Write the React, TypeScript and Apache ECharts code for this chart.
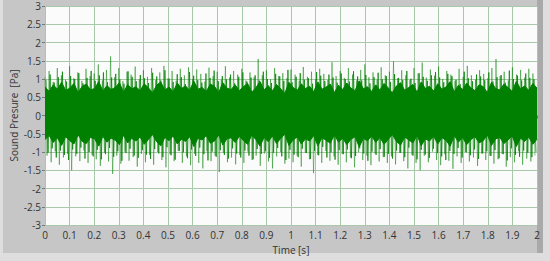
import React, { useEffect, useRef } from "react";
import * as echarts from "echarts";

// Time span of the recording (s)
const DURATION = 2;

// Positive peaks of the light-green outer spikes, one per 1/60 s
const spikePeaksUp = [
  1.05, 1.22, 0.92, 1.30, 1.10, 0.98, 1.35, 1.02, 1.18, 0.95, 1.28, 1.08,
  1.15, 1.40, 0.96, 1.25, 1.62, 1.05, 1.30, 0.94, 1.20, 1.12, 1.34, 0.99,
  1.24, 1.06, 1.30, 0.97, 1.18, 1.36, 1.02, 1.22, 0.95, 1.28, 1.10, 1.32,
  1.00, 1.26, 1.14, 0.93, 1.31, 1.08, 1.20, 0.98, 1.35, 1.04, 1.22, 1.12,
  1.28, 0.96, 1.18, 1.05, 1.55, 1.10, 1.24, 0.99, 1.30, 1.08, 1.16, 1.02,
  1.26, 1.12, 0.95, 1.33, 1.06, 1.20, 1.00, 1.28, 1.14, 0.97, 1.46, 1.08,
  1.22, 1.03, 1.30, 1.12, 0.96, 1.25, 1.40, 1.05, 1.18, 0.98, 1.32, 1.10,
  1.20, 1.48, 1.02, 1.24, 1.10, 0.97, 1.30, 1.15, 1.45, 1.04, 1.26, 1.09,
  1.34, 1.00, 1.22, 1.12, 0.95, 1.28, 1.06, 1.36, 1.10, 0.98, 1.24, 1.14,
  1.02, 1.30, 1.55, 1.08, 1.20, 0.96, 1.32, 1.12, 1.25, 1.04, 1.28, 1.15,
];

// Negative peaks of the light-green outer spikes
const spikePeaksDown = [
  -1.10, -1.28, -0.98, -1.35, -1.15, -1.05, -1.50, -1.12, -1.25, -0.96, -1.30, -1.08,
  -1.20, -1.38, -1.02, -1.26, -1.60, -1.10, -1.32, -0.99, -1.24, -1.14, -1.40, -1.05,
  -1.28, -1.08, -1.35, -1.00, -1.22, -1.42, -1.06, -1.25, -0.97, -1.30, -1.12, -1.36,
  -1.05, -1.30, -1.45, -0.98, -1.25, -1.10, -1.55, -1.02, -1.28, -1.15, -1.34, -1.08,
  -1.30, -0.99, -1.22, -1.10, -1.38, -1.04, -1.26, -1.45, -1.12, -1.00, -1.32, -1.18,
  -1.28, -1.10, -1.40, -1.02, -1.20, -1.58, -1.08, -1.30, -0.97, -1.24, -1.12, -1.35,
  -1.05, -1.28, -1.15, -1.42, -1.00, -1.22, -1.10, -1.36, -1.04, -1.26, -1.14, -1.30,
  -1.12, -1.34, -1.02, -1.25, -1.45, -1.08, -1.30, -1.50, -1.10, -1.28, -0.99, -1.22,
  -1.36, -1.06, -1.24, -1.46, -1.12, -1.30, -1.00, -1.26, -1.15, -1.38, -1.04, -1.22,
  -1.10, -1.32, -1.20, -1.05, -1.40, -1.14, -1.28, -0.98, -1.35, -1.18, -1.26, -1.10,
];

// Positive peaks of the medium-green inner spikes (offset a quarter step)
const midPeaksUp = [
  0.98, 1.12, 0.90, 1.05, 1.20, 0.93, 1.08, 1.00, 1.16, 0.88, 1.03, 1.22,
  0.95, 1.10, 1.18, 0.91, 1.04, 1.14, 0.99, 0.87, 1.21, 1.06, 0.94, 1.11,
  1.02, 0.89, 1.17, 1.07, 0.96, 1.24, 1.01, 0.92, 1.13, 1.05, 0.86, 1.19,
  1.09, 0.97, 0.90, 1.15, 1.03, 1.23, 0.94, 1.08, 0.99, 1.12, 0.88, 1.06,
  1.18, 0.93, 1.04, 1.10, 0.96, 1.20, 1.00, 0.89, 1.14, 1.07, 0.95, 1.25,
  0.91, 1.06, 1.16, 0.98, 1.02, 0.87, 1.19, 1.09, 0.94, 1.12, 1.04, 0.90,
  1.15, 1.00, 0.93, 1.21, 1.07, 0.96, 1.11, 0.88, 1.05, 1.17, 0.99, 1.08,
  0.92, 1.13, 1.03, 0.97, 1.22, 1.01, 0.89, 1.16, 1.06, 0.95, 1.10, 1.19,
  1.04, 0.91, 1.14, 1.08, 0.98, 0.86, 1.20, 1.02, 0.94, 1.12, 1.07, 0.97,
  1.18, 0.93, 1.05, 1.11, 0.90, 1.23, 1.00, 1.09, 0.96, 1.15, 1.03, 0.99,
];

// Negative peaks of the medium-green inner spikes
const midPeaksDown = [
  -1.02, -0.90, -1.15, -0.96, -1.08, -1.22, -0.93, -1.05, -0.88, -1.18, -1.00, -1.12,
  -0.94, -1.20, -1.06, -0.89, -1.13, -0.98, -1.24, -1.03, -0.91, -1.10, -1.16, -0.95,
  -1.07, -1.19, -0.92, -1.04, -1.14, -0.87, -1.09, -1.21, -0.97, -1.01, -1.17, -0.93,
  -1.11, -0.88, -1.06, -1.23, -0.99, -1.13, -0.95, -1.08, -1.18, -0.90, -1.04, -1.15,
  -0.96, -1.10, -1.20, -0.92, -1.05, -0.98, -1.16, -1.02, -0.89, -1.12, -1.22, -0.94,
  -1.07, -1.14, -0.91, -1.03, -1.19, -0.97, -1.09, -0.86, -1.15, -1.01, -1.21, -0.95,
  -1.06, -0.93, -1.17, -1.11, -0.90, -1.04, -1.24, -0.99, -1.08, -0.92, -1.13, -1.05,
  -1.18, -0.96, -1.02, -1.14, -0.88, -1.10, -1.20, -0.94, -1.07, -1.16, -0.91, -1.03,
  -1.12, -1.22, -0.97, -1.05, -0.89, -1.15, -1.01, -1.09, -0.93, -1.19, -1.04, -0.98,
  -1.11, -0.95, -1.17, -1.06, -1.23, -0.90, -1.08, -1.13, -0.96, -1.02, -1.14, -1.00,
];

// Upper edge of the dense dark-green core
const coreUpper = [
  0.78, 0.66, 0.84, 0.72, 0.91, 0.69, 0.75, 0.88, 0.63, 0.80, 0.86, 0.70,
  0.74, 0.93, 0.67, 0.82, 0.71, 0.77, 0.90, 0.64, 0.85, 0.73, 0.79, 0.68,
  0.87, 0.76, 0.62, 0.83, 0.92, 0.70, 0.78, 0.65, 0.89, 0.74, 0.81, 0.69,
  0.94, 0.72, 0.77, 0.66, 0.86, 0.80, 0.63, 0.90, 0.75, 0.71, 0.84, 0.68,
  0.79, 0.88, 0.64, 0.76, 0.93, 0.70, 0.82, 0.67, 0.85, 0.73, 0.61, 0.91,
  0.77, 0.69, 0.87, 0.74, 0.80, 0.65, 0.92, 0.72, 0.78, 0.86, 0.63, 0.83,
  0.71, 0.89, 0.75, 0.68, 0.95, 0.73, 0.79, 0.66, 0.84, 0.70, 0.88, 0.76,
  0.62, 0.81, 0.90, 0.69, 0.77, 0.85, 0.64, 0.92, 0.74, 0.80, 0.67, 0.87,
  0.72, 0.78, 0.93, 0.65, 0.83, 0.71, 0.89, 0.76, 0.68, 0.84, 0.79, 0.63,
  0.91, 0.74, 0.70, 0.86, 0.77, 0.66, 0.94, 0.73, 0.81, 0.69, 0.88, 0.75,
];

// Lower edge of the dense dark-green core
const coreLower = [
  -0.66, -0.55, -0.74, -0.61, -0.82, -0.58, -0.69, -0.78, -0.53, -0.71, -0.77, -0.60,
  -0.64, -0.84, -0.57, -0.73, -0.62, -0.68, -0.80, -0.54, -0.75, -0.63, -0.70, -0.59,
  -0.79, -0.66, -0.52, -0.72, -0.83, -0.60, -0.69, -0.56, -0.78, -0.65, -0.71, -0.58,
  -0.85, -0.62, -0.67, -0.55, -0.76, -0.70, -0.53, -0.81, -0.64, -0.61, -0.74, -0.57,
  -0.69, -0.79, -0.54, -0.66, -0.84, -0.60, -0.72, -0.56, -0.77, -0.63, -0.51, -0.82,
  -0.67, -0.59, -0.78, -0.64, -0.70, -0.55, -0.83, -0.61, -0.68, -0.76, -0.53, -0.73,
  -0.62, -0.80, -0.65, -0.58, -0.86, -0.63, -0.69, -0.56, -0.74, -0.60, -0.79, -0.66,
  -0.52, -0.71, -0.81, -0.59, -0.67, -0.75, -0.54, -0.83, -0.64, -0.70, -0.57, -0.78,
  -0.61, -0.68, -0.84, -0.55, -0.73, -0.60, -0.80, -0.66, -0.58, -0.75, -0.69, -0.53,
  -0.82, -0.64, -0.60, -0.77, -0.67, -0.56, -0.85, -0.62, -0.71, -0.59, -0.79, -0.65,
];

const Y_TITLE = "Sound Presure  [Pa]";
const X_TITLE = "Time [s]";

function buildZigzag(up: number[], down: number[], offset: number): [number, number][] {
  const n = up.length;
  const dt = DURATION / n;
  const out: [number, number][] = [];
  for (let i = 0; i < n; i++) {
    out.push([(i + offset) * dt, up[i]]);
    out.push([(i + offset + 0.5) * dt, down[i]]);
  }
  return out;
}

function buildEdge(arr: number[]): [number, number][] {
  const dt = DURATION / (arr.length - 1);
  return arr.map((v, i) => [i * dt, v]);
}

export default function App() {
  const ref = useRef<HTMLDivElement>(null);
  useEffect(() => {
    document.body.style.margin = "0";
    if (!ref.current) return;
    const chart = echarts.init(ref.current, undefined, { renderer: "svg" });
    const font = "'Open Sans', 'Noto Sans', sans-serif";
    const green = "#008000";
    const label = {
      color: "#333",
      fontSize: 10,
      fontFamily: font,
      formatter: (v: number) => String(Math.round(v * 10) / 10),
    };
    chart.setOption({
      animation: false,
      backgroundColor: "#dedede",
      graphic: [
        { type: "rect", z: -10, shape: { x: 3, y: 0, width: 540, height: 253 }, style: { fill: "#c6c6c6" } },
        { type: "rect", z: -9, shape: { x: 537, y: 0, width: 6, height: 253 }, style: { fill: "#a9a9a9" } },
      ],
      grid: {
        left: 45,
        right: 13,
        top: 6,
        bottom: 36,
        outerBoundsMode: "none",
        containLabel: false,
        show: true,
        backgroundColor: "#fbfbfb",
        borderWidth: 0,
      },
      xAxis: {
        type: "value",
        min: 0,
        max: 2,
        interval: 0.1,
        name: X_TITLE,
        nameLocation: "middle",
        nameGap: 20,
        nameMoveOverlap: false,
        nameTextStyle: { color: "#333", fontSize: 10, fontFamily: font },
        axisLine: { show: false },
        axisTick: { show: true, length: 3, lineStyle: { color: "#777" } },
        axisLabel: { ...label, margin: 5 },
        splitLine: { show: true, lineStyle: { color: "#a9c7a9", width: 1 } },
      },
      yAxis: {
        type: "value",
        min: -3,
        max: 3,
        interval: 0.5,
        name: Y_TITLE,
        nameLocation: "middle",
        nameRotate: 90,
        nameGap: 26,
        nameMoveOverlap: false,
        nameTextStyle: { color: "#333", fontSize: 10, fontFamily: font },
        axisLine: { show: false },
        axisTick: { show: true, length: 3, lineStyle: { color: "#777" } },
        axisLabel: { ...label, margin: 4 },
        splitLine: { show: true, lineStyle: { color: "#a9c7a9", width: 1 } },
      },
      series: [
        {
          type: "line",
          data: buildZigzag(spikePeaksUp, spikePeaksDown, 0),
          symbol: "none",
          silent: true,
          z: 2,
          lineStyle: { color: "rgba(0,128,0,0.45)", width: 1 },
        },
        {
          type: "line",
          data: buildZigzag(midPeaksUp, midPeaksDown, 0.25),
          symbol: "none",
          silent: true,
          z: 3,
          lineStyle: { color: "rgba(0,128,0,0.75)", width: 1 },
        },
        {
          type: "line",
          data: buildEdge(coreUpper),
          symbol: "none",
          silent: true,
          z: 4,
          lineStyle: { color: green, width: 1 },
          areaStyle: { color: green, opacity: 1, origin: -0.3 },
        },
        {
          type: "line",
          data: buildEdge(coreLower),
          symbol: "none",
          silent: true,
          z: 4,
          lineStyle: { color: green, width: 1 },
          areaStyle: { color: green, opacity: 1, origin: 0.3 },
        },
      ],
    });
    return () => chart.dispose();
  }, []);
  return <div ref={ref} style={{ width: 550, height: 261 }} />;
}
